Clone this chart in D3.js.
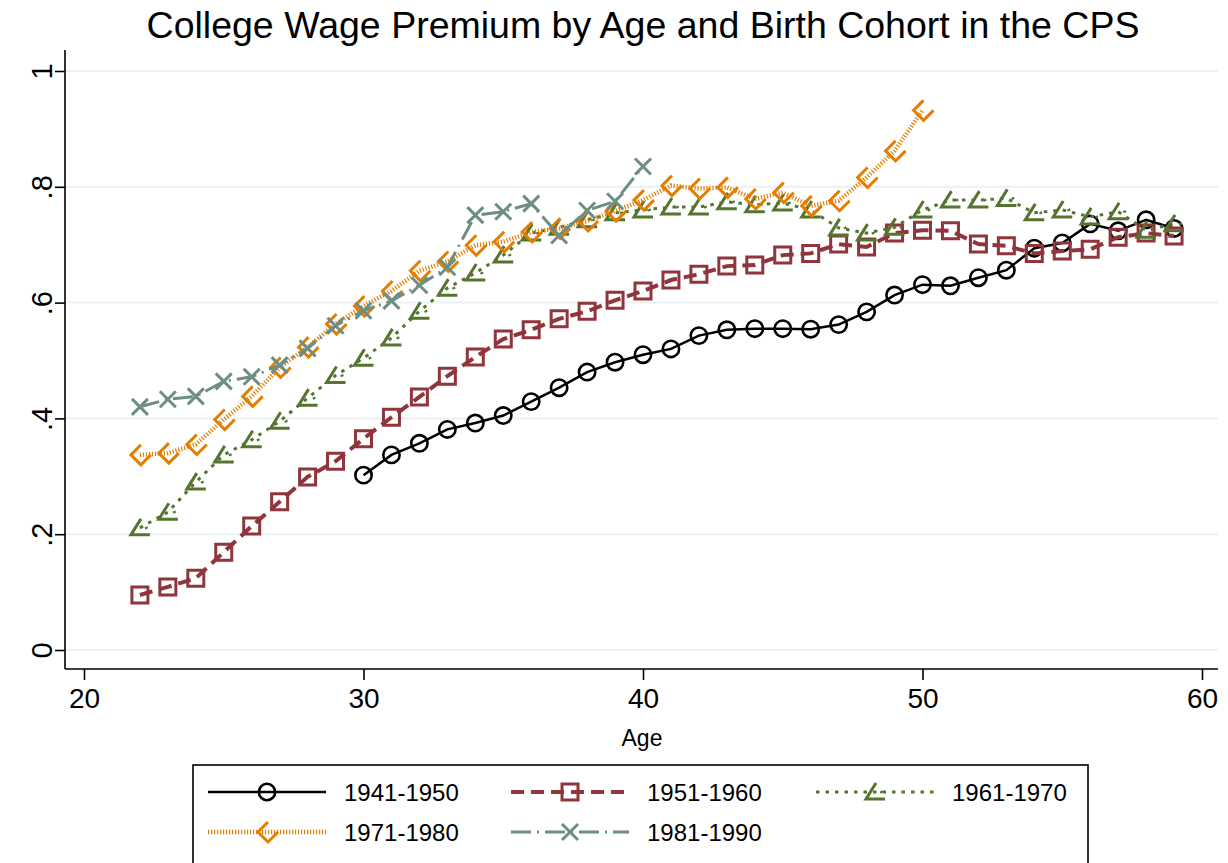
<!DOCTYPE html>
<html>
<head>
<meta charset="utf-8">
<script src="https://cdn.jsdelivr.net/npm/d3@7"></script>
<style>
  body { margin: 0; background: #fff; }
  svg { font-family: "Liberation Sans", Arial, sans-serif; }
</style>
</head>
<body>
<div id="chart"></div>
<script>
let svgWidth = 1228;
let svgHeight = 863;

// data
let cohorts = ["1941-1950", "1951-1960", "1961-1970", "1971-1980", "1981-1990"];

let ages1941 = d3.range(30, 60);
let prem1941 = [0.302, 0.337, 0.357, 0.381, 0.392, 0.405, 0.429, 0.453, 0.480, 0.497,
                0.510, 0.520, 0.543, 0.553, 0.555, 0.555, 0.554, 0.562, 0.584, 0.613,
                0.631, 0.629, 0.643, 0.656, 0.694, 0.703, 0.736, 0.724, 0.743, 0.728];

let ages1951 = d3.range(22, 60);
let prem1951 = [0.095, 0.109, 0.124, 0.169, 0.214, 0.256, 0.299, 0.326, 0.365, 0.402,
                0.437, 0.473, 0.506, 0.537, 0.553, 0.572, 0.585, 0.604, 0.620, 0.639,
                0.649, 0.663, 0.665, 0.682, 0.685, 0.701, 0.696, 0.720, 0.725, 0.724,
                0.701, 0.698, 0.685, 0.689, 0.692, 0.713, 0.720, 0.715];

let ages1961 = d3.range(22, 60);
let prem1961 = [0.211, 0.238, 0.290, 0.337, 0.363, 0.395, 0.435, 0.474, 0.504, 0.539,
                0.585, 0.625, 0.651, 0.682, 0.720, 0.730, 0.743, 0.755, 0.760, 0.765,
                0.765, 0.774, 0.769, 0.772, 0.760, 0.729, 0.720, 0.730, 0.760, 0.777,
                0.777, 0.780, 0.755, 0.760, 0.748, 0.757, 0.725, 0.736];

let ages1971 = d3.range(22, 51);
let prem1971 = [0.337, 0.340, 0.355, 0.398, 0.438, 0.488, 0.523, 0.563, 0.594, 0.620,
                0.655, 0.671, 0.699, 0.705, 0.722, 0.728, 0.741, 0.758, 0.777, 0.802,
                0.797, 0.799, 0.779, 0.790, 0.767, 0.776, 0.816, 0.862, 0.932];

let ages1981 = d3.range(22, 41);
let prem1981 = [0.420, 0.433, 0.438, 0.464, 0.472, 0.492, 0.521, 0.560, 0.586, 0.603,
                0.630, 0.661, 0.751, 0.757, 0.771, 0.716, 0.759, 0.775, 0.835];

let xTicks = [20, 30, 40, 50, 60];
let yTicks = [0, 0.2, 0.4, 0.6, 0.8, 1];
let yTickLabels = ["0", ".2", ".4", ".6", ".8", "1"];

let seriesData = [
  { name: cohorts[0], ages: ages1941, prem: prem1941 },
  { name: cohorts[1], ages: ages1951, prem: prem1951 },
  { name: cohorts[2], ages: ages1961, prem: prem1961 },
  { name: cohorts[3], ages: ages1971, prem: prem1971 },
  { name: cohorts[4], ages: ages1981, prem: prem1981 }
];

// looks of each series (Stata s2 style)
let styles = [
  { color: "#000000", width: 2.5, dash: null,        marker: "circle" },
  { color: "#90353b", width: 4,   dash: "13,7",      marker: "square" },
  { color: "#55752f", width: 3,   dash: "3.5,6",     marker: "triangle" },
  { color: "#e37e00", width: 4.5, dash: "1.2,1.8",   marker: "diamond" },
  { color: "#6e8e84", width: 3,   dash: "20,6,2,6",  marker: "x" }
];

let svg = d3.select("#chart")
    .append("svg")
    .attr("width", svgWidth)
    .attr("height", svgHeight);

let xScale = d3.scaleLinear().domain([20, 60]).range([84, 1202]);
let yScale = d3.scaleLinear().domain([0, 1]).range([650, 71]);

// title
svg.append("text")
    .attr("x", 643)
    .attr("y", 38)
    .attr("text-anchor", "middle")
    .attr("font-size", 37.5)
    .attr("fill", "#000")
    .text("College Wage Premium by Age and Birth Cohort in the CPS");

// gridlines
svg.append("g")
    .selectAll("line")
    .data(yTicks)
    .enter()
    .append("line")
    .attr("x1", 66)
    .attr("x2", 1218)
    .attr("y1", d => yScale(d))
    .attr("y2", d => yScale(d))
    .attr("stroke", "#eaf2f3")
    .attr("stroke-width", 2);

// y axis
let leftAxis = d3.axisLeft(yScale)
    .tickValues(yTicks)
    .tickSize(10)
    .tickSizeOuter(0)
    .tickFormat((d, i) => yTickLabels[i]);

let yAxisG = svg.append("g")
    .attr("transform", "translate(65,0)")
    .call(leftAxis);
yAxisG.select(".domain").attr("d", "M0,50V669").attr("stroke-width", 1.6);
yAxisG.selectAll(".tick line").attr("stroke-width", 1.6);
yAxisG.selectAll(".tick text")
    .attr("font-size", 29)
    .attr("font-family", "Liberation Sans, Arial, sans-serif")
    .attr("fill", "#000")
    .attr("text-anchor", "middle")
    .attr("dy", null)
    .attr("x", null)
    .attr("transform", "translate(-13,0) rotate(-90)");

// x axis
let bottomAxis = d3.axisBottom(xScale)
    .tickValues(xTicks)
    .tickSize(11)
    .tickSizeOuter(0)
    .tickFormat(d3.format("d"));

let xAxisG = svg.append("g")
    .attr("transform", "translate(0,669)")
    .call(bottomAxis);
xAxisG.select(".domain").attr("d", "M65,0H1218").attr("stroke-width", 1.6);
xAxisG.selectAll(".tick line").attr("stroke-width", 1.6);
xAxisG.selectAll(".tick text")
    .attr("font-size", 28)
    .attr("font-family", "Liberation Sans, Arial, sans-serif")
    .attr("fill", "#000")
    .attr("dy", null)
    .attr("y", 39);

svg.append("text")
    .attr("x", 642)
    .attr("y", 746)
    .attr("text-anchor", "middle")
    .attr("font-size", 23)
    .text("Age");

// marker shapes
function markerPath(type) {
  if (type === "circle") return d3.symbol(d3.symbolCircle, 210)();
  if (type === "square") return "M-8,-8H8V8H-8Z";
  if (type === "triangle") return "M1,-9L-9,7H10M6,-1L7,1";
  if (type === "diamond") return "M1,-10L-9,0L1,10L11,0";
  if (type === "x") return "M-8,-8L8,8M-8,8L8,-8";
}

let lineGen = d3.line()
    .x(d => xScale(d.age))
    .y(d => yScale(d.v));

let plot = svg.append("g");

seriesData.forEach(function(s, i) {
  let st = styles[i];
  let pts = s.ages.map((a, j) => ({ age: a, v: s.prem[j] }));

  plot.append("path")
      .datum(pts)
      .attr("d", lineGen)
      .attr("fill", "none")
      .attr("stroke", st.color)
      .attr("stroke-width", st.width)
      .attr("stroke-dasharray", st.dash);

  plot.selectAll(".m" + i)
      .data(pts)
      .enter()
      .append("path")
      .attr("class", "m" + i)
      .attr("transform", d => `translate(${xScale(d.age)},${yScale(d.v)})`)
      .attr("d", markerPath(st.marker))
      .attr("fill", "none")
      .attr("stroke", st.color)
      .attr("stroke-width", st.marker === "circle" ? 2.6 : 3);
});

// legend
let legend = svg.append("g");
legend.append("rect")
    .attr("x", 193)
    .attr("y", 765)
    .attr("width", 895)
    .attr("height", 130)
    .attr("fill", "#fff")
    .attr("stroke", "#000")
    .attr("stroke-width", 1.6);

let legendPos = [[208, 792], [511, 792], [816, 792], [208, 832], [511, 832]];

seriesData.forEach(function(s, i) {
  let st = styles[i];
  let g = legend.append("g").attr("transform", `translate(${legendPos[i][0]},${legendPos[i][1]})`);
  g.append("line")
      .attr("x1", 0).attr("x2", 118)
      .attr("y1", 0).attr("y2", 0)
      .attr("stroke", st.color)
      .attr("stroke-width", st.width)
      .attr("stroke-dasharray", st.dash);
  g.append("path")
      .attr("transform", "translate(59,0)")
      .attr("d", markerPath(st.marker))
      .attr("fill", "none")
      .attr("stroke", st.color)
      .attr("stroke-width", st.marker === "circle" ? 2.6 : 3);
  g.append("text")
      .attr("x", 136)
      .attr("y", 9)
      .attr("font-size", 24)
      .text(s.name);
});
</script>
</body>
</html>
